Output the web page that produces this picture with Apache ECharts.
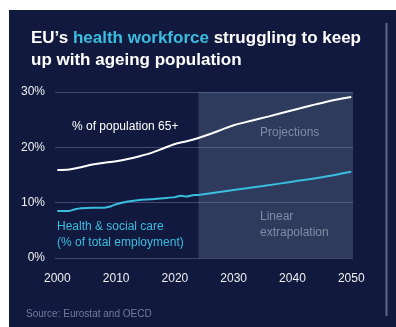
<!DOCTYPE html>
<html>
<head>
<meta charset="utf-8">
<script src="https://cdn.jsdelivr.net/npm/echarts@6/dist/echarts.min.js"></script>
<style>
  html, body { margin: 0; padding: 0; background: #ffffff; }
  #chart { width: 396px; height: 327px; }
</style>
</head>
<body>
<div id="chart"></div>
<script>
// Years shown on the x axis
const yearTicks = [2000, 2010, 2020, 2030, 2040, 2050];
// Share of the EU population aged 65 and over (%), observed and projected
const popYears = [2000, 2002, 2004, 2006, 2008, 2010, 2012, 2014, 2016, 2018, 2020, 2022, 2024, 2026, 2028, 2030, 2033, 2036, 2040, 2043, 2046, 2050];
const pop65 = [15.9, 16.0, 16.4, 16.9, 17.2, 17.5, 17.9, 18.4, 19.0, 19.8, 20.6, 21.1, 21.7, 22.4, 23.2, 24.0, 24.8, 25.6, 26.7, 27.5, 28.3, 29.1];
// Health & social care workers as a share of total employment (%)
const careYears = [2000, 2002, 2003, 2004, 2006, 2008, 2009, 2010, 2012, 2014, 2016, 2018, 2020, 2021, 2022, 2023, 2024, 2030, 2035, 2040, 2045, 2050];
const careShare = [8.5, 8.5, 8.8, 9.0, 9.1, 9.1, 9.3, 9.7, 10.2, 10.5, 10.6, 10.8, 11.0, 11.25, 11.1, 11.35, 11.4, 12.3, 13.0, 13.8, 14.6, 15.6];
// Start of the projection period
const projectionStart = 2024;
const yTicks = [0, 10, 20, 30];

const navy = '#111a3e';
const cyan = '#3bbde0';
const grey = '#8891a8';
const font = 'Liberation Sans, Arial, sans-serif';

const chart = echarts.init(document.getElementById('chart'), null, { renderer: 'canvas' });

chart.setOption({
  backgroundColor: '#ffffff',
  animation: false,
  textStyle: { fontFamily: font },
  graphic: [
    { type: 'rect', z: -10, shape: { x: 9, y: 10, width: 387, height: 317 }, style: { fill: navy } },
    { type: 'line', z: 1, shape: { x1: 386.5, y1: 23, x2: 386.5, y2: 316 }, style: { stroke: '#5f6785', lineWidth: 2 } },
    { type: 'text', left: 26, top: 309, style: { text: 'Source: Eurostat and OECD', fill: '#737c96', font: '10px ' + font } },
    { type: 'text', left: 72, top: 121, style: { text: '% of population 65+', fill: '#ffffff', font: '12px ' + font } },
    { type: 'text', left: 57, top: 219, style: { text: 'Health & social care\n(% of total employment)', fill: cyan, font: '12px ' + font, lineHeight: 16 } },
    { type: 'text', left: 260, top: 127, style: { text: 'Projections', fill: grey, font: '12px ' + font } },
    { type: 'text', left: 260, top: 209, style: { text: 'Linear\nextrapolation', fill: grey, font: '12px ' + font, lineHeight: 16 } }
  ],
  title: {
    left: 26,
    top: 22,
    text: '{w|EU’s }{c|health workforce}{w| struggling to keep}\n{w|up with ageing population}',
    textStyle: {
      rich: {
        w: { color: '#ffffff', fontSize: 17, fontWeight: 'bold', fontFamily: font, lineHeight: 22 },
        c: { color: cyan, fontSize: 17, fontWeight: 'bold', fontFamily: font, lineHeight: 22 }
      }
    }
  },
  grid: { left: 55, right: 43, top: 92, bottom: 69 },
  xAxis: {
    type: 'value',
    min: 1999.6,
    max: 2050.3,
    axisLine: { show: false },
    axisTick: { show: false },
    splitLine: { show: false },
    axisLabel: {
      customValues: yearTicks,
      color: '#f0f0f0',
      fontSize: 12,
      fontFamily: font,
      margin: 15,
      formatter: v => String(Math.round(v))
    }
  },
  yAxis: {
    type: 'value',
    min: 0,
    max: 30,
    interval: 10,
    axisLine: { show: false },
    axisTick: { show: false },
    splitLine: { lineStyle: { color: '#3e4a72', width: 1 } },
    axisLabel: {
      color: '#f0f0f0',
      fontSize: 12,
      fontFamily: font,
      margin: 10,
      formatter: v => yTicks.includes(v) ? v + '%' : ''
    }
  },
  series: [
    {
      type: 'line',
      data: popYears.map((y, i) => [y, pop65[i]]),
      smooth: 0.3,
      showSymbol: false,
      lineStyle: { color: '#ffffff', width: 2 },
      z: 3,
      markArea: {
        silent: true,
        itemStyle: { color: 'rgba(110,130,160,0.32)' },
        data: [[{ xAxis: projectionStart, yAxis: 0 }, { xAxis: 2050.3, yAxis: 30 }]]
      }
    },
    {
      type: 'line',
      data: careYears.map((y, i) => [y, careShare[i]]),
      smooth: 0.2,
      showSymbol: false,
      lineStyle: { color: cyan, width: 2 },
      z: 3
    }
  ]
});
</script>
</body>
</html>
